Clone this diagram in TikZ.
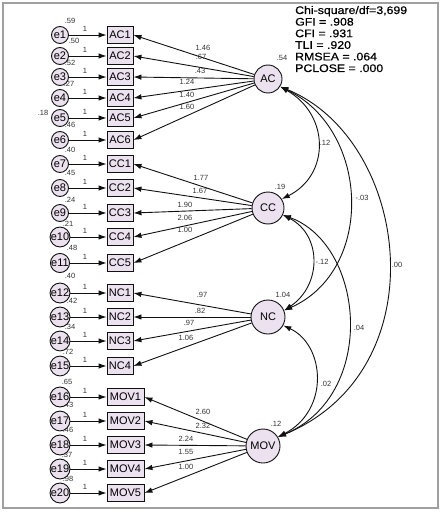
\documentclass[tikz,border=0pt]{standalone}
\usepackage{fontspec}
\setmainfont{Liberation Sans}
\newfontfamily\fitfont[FakeStretch=1.12,FakeBold=0.6]{Liberation Sans}
\usetikzlibrary{arrows.meta}
\definecolor{fillc}{HTML}{EBE1EF}
\definecolor{numc}{HTML}{333333}
\definecolor{framec}{HTML}{A0A0A0}
\definecolor{linec}{HTML}{111111}
\tikzset{
  obs/.style={draw=linec, fill=fillc, line width=0.9pt, minimum width=26pt, minimum height=17pt, inner sep=0pt, font=\fontsize{11}{11}\selectfont},
  obsw/.style={obs, minimum width=37pt},
  err/.style={circle, draw=linec, fill=fillc, line width=0.9pt, minimum size=17pt, inner sep=0pt, font=\fontsize{11}{11}\selectfont},
  lat/.style={circle, draw=linec, fill=fillc, line width=0.9pt, inner sep=0pt, font=\fontsize{11}{11}\selectfont},
  num/.style={font=\fontsize{7.5}{7.5}\selectfont, text=numc, inner sep=0pt},
  fitline/.style={anchor=base west, inner sep=0pt, font=\fitfont\fontsize{11}{11}\selectfont},
  arr/.style={-{Latex[length=8pt,width=5.5pt]}, line width=0.9pt, draw=linec},
  cov/.style={{Latex[length=8pt,width=5.5pt]}-{Latex[length=8pt,width=5.5pt]}, line width=0.9pt, draw=linec},
}
\begin{document}
\begin{tikzpicture}[x=1pt,y=-1pt]
\useasboundingbox (0,0) rectangle (443,516);
\draw[framec, line width=1.2pt] (3,3) rectangle (438,508);

% fit statistics
\node[fitline] (fit1) at (295,14) {Chi-square/df=3,699};
\node[fitline] (fit2) at (295,25.6) {GFI = .908};
\node[fitline] (fit3) at (295,37.2) {CFI = .931};
\node[fitline] (fit4) at (295,48.8) {TLI = .920};
\node[fitline] (fit5) at (295,60.4) {RMSEA = .064};
\node[fitline] (fit6) at (295,72) {PCLOSE = .000};

% error variance labels
\foreach \i/\x/\y/\t in {1/70/21/.59, 2/74/41/.50, 3/70/63/.52, 4/69/84/.27, 5/43/113/.18,
  6/70/125/.46, 7/70/150/.40, 8/70/173/.45, 9/70/200/.24, 10/68/224/.21, 11/72/248/.48,
  12/70/276/.40, 13/72/301/.42, 14/70/327/.34, 15/68/352/.72, 16/67/382/.65,
  17/68/405/.43, 18/68/430/.46, 19/67/455/.37, 20/68/479/.98}
  \node[num] (v\i) at (\x,\y) {\t};

% latent variables
\node[lat, minimum size=28pt] (AC) at (268,79) {AC};
\node[lat, minimum size=32pt] (CC) at (268,208) {CC};
\node[lat, minimum size=34pt] (NC) at (268,317) {NC};
\node[lat, minimum size=34pt] (MOV) at (263,446) {MOV};
\node[num] (vAC) at (282,58) {.54};
\node[num] (vCC) at (280,187) {.19};
\node[num] (vNC) at (283,295) {1.04};
\node[num] (vMOV) at (276,424) {.12};

% indicators and errors
\foreach \n/\y/\e/\s in {AC1/35/1/obs, AC2/56/2/obs, AC3/77/3/obs, AC4/98/4/obs, AC5/118/5/obs, AC6/140/6/obs,
  CC1/164/7/obs, CC2/188/8/obs, CC3/213/9/obs, CC4/237/10/obs, CC5/263/11/obs,
  NC1/293/12/obs, NC2/317/13/obs, NC3/341/14/obs, NC4/366/15/obs}{
  \node[\s] (\n) at (120,\y) {\n};
  \node[err] (e\e) at (60,\y) {e\e};
  \draw[arr] (e\e) -- (\n);
  \node[num] (one\e) at (85,\y-6) {1};
}
\foreach \n/\y/\e in {MOV1/397/16, MOV2/421/17, MOV3/445/18, MOV4/469/19, MOV5/493/20}{
  \node[obsw] (\n) at (125.5,\y) {\n};
  \node[err] (e\e) at (60,\y) {e\e};
  \draw[arr] (e\e) -- (\n);
  \node[num] (one\e) at (85,\y-6) {1};
}

% loadings
\foreach \n/\l in {AC1/AC, AC2/AC, AC3/AC, AC4/AC, AC5/AC, AC6/AC,
  CC1/CC, CC2/CC, CC3/CC, CC4/CC, CC5/CC, NC1/NC, NC2/NC, NC3/NC, NC4/NC,
  MOV1/MOV, MOV2/MOV, MOV3/MOV, MOV4/MOV, MOV5/MOV}
  \draw[arr] (\l) -- (\n.east);

\foreach \k/\x/\y/\t in {a1/203/48/1.46, a2/201/57/.67, a3/200/71/.43, a4/187/82/1.24, a5/187/95/1.40, a6/187/107/1.60,
  c1/201/178/1.77, c2/200/191/1.67, c3/185/205/1.90, c4/185/218/2.06, c5/185/230/1.00,
  n1/202/295/.97, n2/200/311/.82, n3/189/323/.97, n4/186/338/1.06,
  m1/203/412/2.60, m2/203/426/2.32, m3/186/439/2.24, m4/186/452/1.55, m5/186/467/1.00}
  \node[num] (L\k) at (\x,\y) {\t};

% covariances
\draw[cov] (AC.-32) .. controls (330,115) and (330,175) .. (CC.33);
\draw[cov] (AC.-32) .. controls (370,130) and (375,270) .. (NC.22);
\draw[cov] (AC.-32) .. controls (410,140) and (440,370) .. (MOV.31);
\draw[cov] (CC.-25) .. controls (322,235) and (322,285) .. (NC.22);
\draw[cov] (CC.-25) .. controls (365,245) and (378,395) .. (MOV.31);
\draw[cov] (NC.-29) .. controls (325,345) and (330,410) .. (MOV.31);

\node[num] (kACCC) at (325,143) {.12};
\node[num] (kACNC) at (362,198) {-.03};
\node[num] (kACMOV) at (397,265) {.00};
\node[num] (kCCNC) at (322,262) {-.12};
\node[num] (kCCMOV) at (359,328) {.04};
\node[num] (kNCMOV) at (326,384) {.02};
\end{tikzpicture}
\end{document}
